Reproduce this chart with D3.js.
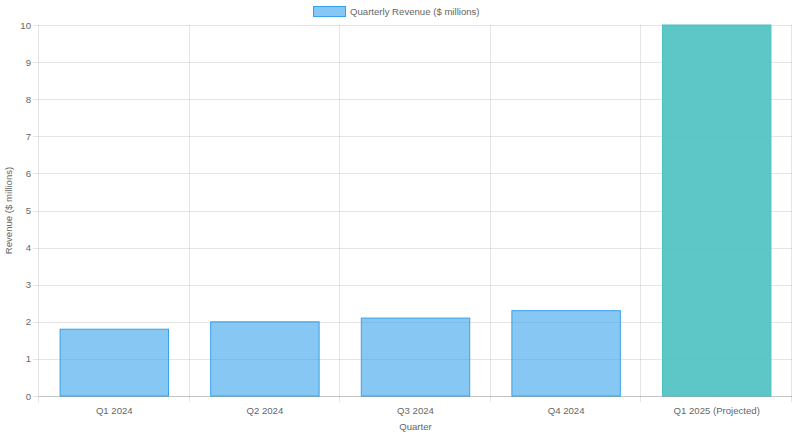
<!DOCTYPE html>
<html>
<head>
<meta charset="utf-8">
<script src="https://cdn.jsdelivr.net/npm/d3@7"></script>
<style>
  body { margin: 0; background: #fff; }
  text { font-family: "Liberation Sans", Arial, sans-serif; }
</style>
</head>
<body>
<div id="chart"></div>
<script>
const quarters = ["Q1 2024", "Q2 2024", "Q3 2024", "Q4 2024", "Q1 2025 (Projected)"];
const revenue = [1.8, 2.0, 2.1, 2.3, 10];
const projected = [false, false, false, false, true];
const yTicks = [0, 1, 2, 3, 4, 5, 6, 7, 8, 9, 10];

const w = 793;
const h = 437;
const padL = 39, padR = 792, padT = 25, padB = 396;
const fs = 9.6;

const svg = d3.select("#chart")
  .append("svg")
  .attr("width", w)
  .attr("height", h);

// scales
const xScale = d3.scaleBand()
  .domain(quarters)
  .range([padL, padR]);

const yScale = d3.scaleLinear()
  .domain([0, 10])
  .range([padB, padT]);

const grid = "rgba(0,0,0,0.1)";

// horizontal grid + y tick marks
svg.append("g")
  .selectAll("line")
  .data(yTicks)
  .enter()
  .append("line")
  .attr("x1", padL - 6)
  .attr("x2", padR)
  .attr("y1", d => Math.round(yScale(d)) + 0.5)
  .attr("y2", d => Math.round(yScale(d)) + 0.5)
  .attr("stroke", grid);

// vertical grid + x tick marks
const xLines = quarters.map(q => xScale(q)).concat([padR]);
svg.append("g")
  .selectAll("line")
  .data(xLines)
  .enter()
  .append("line")
  .attr("x1", d => Math.round(d) - 0.5)
  .attr("x2", d => Math.round(d) - 0.5)
  .attr("y1", padT)
  .attr("y2", padB + 6)
  .attr("stroke", grid);

// y tick labels
svg.append("g")
  .selectAll("text")
  .data(yTicks)
  .enter()
  .append("text")
  .attr("x", padL - 8)
  .attr("y", d => yScale(d) + 3.5)
  .attr("text-anchor", "end")
  .attr("font-size", fs)
  .attr("fill", "#666")
  .text(d => d);

// x tick labels
svg.append("g")
  .selectAll("text")
  .data(quarters)
  .enter()
  .append("text")
  .attr("x", d => xScale(d) + xScale.bandwidth() / 2)
  .attr("y", padB + 18)
  .attr("text-anchor", "middle")
  .attr("font-size", fs)
  .attr("fill", "#666")
  .text(d => d);

// bars
const barW = xScale.bandwidth() * 0.72;
svg.append("g")
  .selectAll("rect")
  .data(quarters)
  .enter()
  .append("rect")
  .attr("x", d => xScale(d) + (xScale.bandwidth() - barW) / 2)
  .attr("y", (d, i) => yScale(revenue[i]))
  .attr("width", barW)
  .attr("height", (d, i) => padB - yScale(revenue[i]))
  .attr("fill", (d, i) => projected[i] ? "rgba(75,192,192,0.9)" : "rgba(54,162,235,0.6)")
  .attr("stroke", (d, i) => projected[i] ? "rgba(75,192,192,1)" : "rgba(54,162,235,1)")
  .attr("stroke-width", 1);

// zero line
svg.append("line")
  .attr("x1", padL)
  .attr("x2", padR)
  .attr("y1", padB + 0.5)
  .attr("y2", padB + 0.5)
  .attr("stroke", "rgba(0,0,0,0.15)");

// axis titles
svg.append("text")
  .attr("x", (padL + padR) / 2)
  .attr("y", 430)
  .attr("text-anchor", "middle")
  .attr("font-size", fs)
  .attr("fill", "#666")
  .text("Quarter");

svg.append("text")
  .attr("transform", "translate(12," + (padT + padB) / 2 + ") rotate(-90)")
  .attr("text-anchor", "middle")
  .attr("font-size", fs)
  .attr("fill", "#666")
  .text("Revenue ($ millions)");

// legend
svg.append("rect")
  .attr("x", 313.5)
  .attr("y", 6.5)
  .attr("width", 32)
  .attr("height", 10)
  .attr("fill", "rgba(54,162,235,0.6)")
  .attr("stroke", "rgba(54,162,235,1)");

svg.append("text")
  .attr("x", 350)
  .attr("y", 15)
  .attr("font-size", fs)
  .attr("fill", "#666")
  .text("Quarterly Revenue ($ millions)");
</script>
</body>
</html>
